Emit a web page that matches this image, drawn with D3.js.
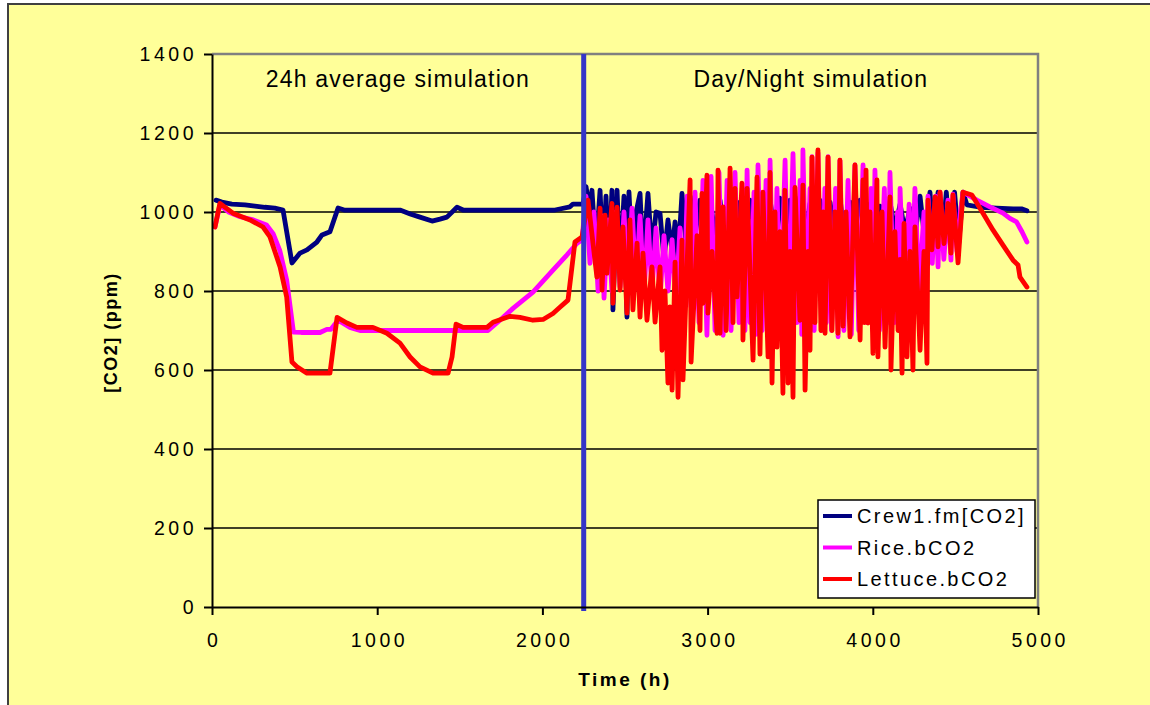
<!DOCTYPE html>
<html>
<head>
<meta charset="utf-8">
<script src="https://cdn.jsdelivr.net/npm/d3@7"></script>
<style>
  body { margin: 0; background: #fff; }
  svg { display: block; font-family: Arial, 'Liberation Sans', sans-serif; }
</style>
</head>
<body>
<div id="chart"></div>
<script>
// axis ticks
const yTicks = [0, 200, 400, 600, 800, 1000, 1200, 1400];
const xTicks = [0, 1000, 2000, 3000, 4000, 5000];
const switchTime = 2250; // 24h average -> day/night
const sectionLabels = ['24h average simulation', 'Day/Night simulation'];
const seriesNames = ['Crew1.fm[CO2]', 'Rice.bCO2', 'Lettuce.bCO2'];

// [time (h), CO2 (ppm)]
const crew = [
  [24,1030],[60,1025],[120,1020],[200,1018],[260,1015],[320,1012],[380,1010],[430,1005],
  [484,871],[533,896],[575,904],[635,924],[666,942],[714,950],[763,1010],[800,1005],
  [1138,1005],[1200,995],[1259,987],[1332,977],[1380,982],[1422,987],[1483,1012],[1520,1005],
  [2076,1005],[2167,1013],[2185,1020],[2246,1020],
  [2264,1064],[2288,1000],[2300,1055],[2324,900],[2349,1055],[2367,880],[2385,1040],[2403,870],
  [2421,1055],[2427,752],[2452,1055],[2470,860],[2494,1040],[2512,734],[2524,1051],[2548,850],
  [2567,1000],[2591,1047],[2609,880],[2639,1047],[2663,900],[2688,1000],[2712,997],[2736,880],
  [2760,980],[2785,900],[2803,975],[2821,880],[2845,1047],[2869,920],[2894,1040],[2924,940],
  [2954,1030],[2984,930],[3015,1035],[3045,940],[3075,1030],[3105,930],[3136,1035],[3166,940],
  [3196,1025],[3226,930],[3257,1030],[3287,940],[3317,1020],[3348,930],[3378,1030],[3408,945],
  [3438,1035],[3468,925],[3499,1030],[3529,940],[3559,1038],[3590,930],[3620,1022],[3650,945],
  [3680,1030],[3711,935],[3741,1025],[3771,940],[3801,1035],[3832,930],[3862,1025],[3892,950],
  [3923,1030],[3953,960],[3983,1020],[4013,950],[4043,1015],[4074,960],[4104,1025],[4134,955],
  [4165,1020],[4195,950],[4225,1010],[4255,940],[4286,1040],[4316,925],[4346,1050],[4370,915],
  [4395,1050],[4420,920],[4445,1050],[4470,915],[4495,1050],[4520,920],[4546,1050],
  [4570,1018],[4650,1012],[4750,1010],[4850,1008],[4900,1008],[4933,1003]
];

const rice = [
  [18,962],[48,1018],[100,1000],[170,988],[250,980],[330,967],[370,945],[410,903],[452,828],[493,696],
  [540,695],[654,695],[695,703],[720,703],[763,726],[835,708],[896,700],[1671,700],
  [1743,726],[1822,756],[1943,797],[2064,853],[2148,891],[2210,921],[2240,929],
  [2264,1040],[2288,870],[2312,1000],[2337,800],[2361,990],[2373,782],[2397,980],[2421,800],
  [2446,1000],[2470,810],[2494,1000],[2518,800],[2542,1010],[2567,820],[2591,990],[2615,790],
  [2639,980],[2663,800],[2688,960],[2712,780],[2736,940],[2760,800],[2785,930],[2809,780],
  [2833,960],[2851,700],[2876,1040],[2900,760],[2924,1050],[2948,720],[2972,1080],[2996,688],
  [3021,1090],[3045,700],[3069,1100],[3094,688],[3118,1080],[3142,700],[3166,1100],[3190,720],
  [3214,1060],[3226,700],[3239,1106],[3257,720],[3281,1050],[3293,690],[3305,1119],[3330,700],
  [3354,1080],[3366,690],[3378,1131],[3400,700],[3420,1060],[3440,720],[3469,1131],[3490,700],
  [3517,1148],[3540,720],[3560,1080],[3570,690],[3577,1157],[3600,720],[3620,1060],[3626,740],
  [3632,1140],[3645,700],[3668,1150],[3690,700],[3710,1060],[3718,720],[3729,1140],[3750,700],
  [3775,1060],[3790,684],[3801,1131],[3825,700],[3850,1080],[3870,690],[3892,1119],[3915,700],
  [3941,1119],[3965,720],[3990,1060],[4000,700],[4013,1106],[4040,700],[4070,1060],[4090,720],
  [4104,1100],[4130,720],[4150,1000],[4158,740],[4165,1060],[4190,760],[4220,1020],[4235,780],
  [4255,1060],[4280,800],[4310,1000],[4320,820],[4334,1040],[4360,870],[4380,1040],[4395,861],
  [4407,1050],[4430,880],[4455,1030],[4473,878],[4485,1045],[4510,900],[4530,1000],[4546,1050],
  [4560,1047],[4630,1030],[4709,1013],[4788,997],[4830,984],[4870,975],[4903,950],[4933,924]
];

const lettuce = [
  [18,962],[48,1022],[127,997],[230,980],[309,962],[351,937],[412,861],[452,785],[484,620],[514,608],
  [575,592],[714,592],[757,733],[817,719],[877,708],[974,708],[1059,693],[1138,668],[1199,633],
  [1259,608],[1338,592],[1429,592],[1453,633],[1477,716],[1520,708],[1665,708],[1701,721],
  [1804,736],[1864,733],[1943,726],[2004,728],[2064,743],[2106,759],[2155,777],[2197,924],[2240,937],
  [2276,1030],[2330,835],[2349,1010],[2361,802],[2379,992],[2391,845],[2421,1022],[2427,769],
  [2452,1012],[2470,802],[2488,962],[2512,744],[2530,980],[2548,752],[2573,921],[2591,734],
  [2609,896],[2633,726],[2663,861],[2682,721],[2712,861],[2724,650],[2742,800],[2760,567],
  [2772,760],[2785,549],[2803,873],[2821,531],[2845,929],[2851,575],[2894,1081],[2900,620],
  [2936,940],[2954,700],[2966,1047],[2972,769],[2996,1093],[3002,744],[3027,900],[3057,693],
  [3063,1106],[3075,693],[3094,1013],[3112,700],[3136,1111],[3154,720],[3166,1060],[3178,785],
  [3208,1073],[3214,676],[3239,1060],[3275,625],[3299,1088],[3317,640],[3335,1050],[3366,633],
  [3378,1100],[3390,567],[3408,1000],[3420,658],[3438,950],[3456,541],[3468,1055],[3487,567],
  [3499,900],[3517,531],[3529,1062],[3559,726],[3577,1068],[3590,549],[3608,900],[3620,650],
  [3632,1139],[3650,720],[3668,1157],[3686,700],[3699,1000],[3711,693],[3729,1139],[3753,700],
  [3771,1000],[3789,693],[3801,1131],[3820,711],[3838,1000],[3862,684],[3892,1119],[3923,676],
  [3941,1081],[3950,720],[3959,1106],[3971,719],[3983,1000],[4001,642],[4025,1081],[4031,633],
  [4056,1000],[4074,658],[4104,1038],[4110,600],[4134,950],[4153,700],[4165,880],[4177,592],
  [4189,971],[4207,633],[4225,900],[4243,600],[4255,962],[4286,650],[4310,900],[4328,617],
  [4334,1030],[4358,904],[4377,1038],[4395,912],[4407,1050],[4431,920],[4455,1022],[4473,896],
  [4485,1043],[4516,871],[4546,1050],
  [4600,1043],[4667,997],[4728,954],[4788,916],[4849,878],[4879,866],[4891,835],[4933,810]
];

const colours = ['#000080', '#FF00FF', '#FF0000'];
const plot = {left: 212, right: 1038, top: 54, bottom: 607};

const svg = d3.select('#chart').append('svg')
  .attr('width', 1150)
  .attr('height', 705);

// chart area
svg.append('rect')
  .attr('x', 8).attr('y', 4)
  .attr('width', 1160).attr('height', 720)
  .attr('fill', '#FFFF99')
  .attr('stroke', '#404040')
  .attr('stroke-width', 2);

const x = d3.scaleLinear().domain([0, 5000]).range([plot.left, plot.right]);
const y = d3.scaleLinear().domain([0, 1400]).range([plot.bottom, plot.top]);

// gridlines
svg.append('g')
  .selectAll('line')
  .data(yTicks.filter(d => d > 0 && d < 1400))
  .enter().append('line')
    .attr('x1', x(0)).attr('x2', x(5000))
    .attr('y1', d => y(d)).attr('y2', d => y(d))
    .attr('stroke', '#000')
    .attr('stroke-width', 1.6);

// top + right frame
svg.append('path')
  .attr('d', `M${x(0)},${y(1400)}H${x(5000)}V${y(0)}`)
  .attr('fill', 'none')
  .attr('stroke', '#808080')
  .attr('stroke-width', 2.5);

// series
const line = d3.line().x(d => x(d[0])).y(d => y(d[1]));
[crew, rice, lettuce].forEach((s, i) => {
  svg.append('path')
    .datum(s)
    .attr('d', line)
    .attr('fill', 'none')
    .attr('stroke', colours[i])
    .attr('stroke-width', 4.8)
    .attr('stroke-linejoin', 'round')
    .attr('stroke-linecap', 'round');
});

// divider between the two simulations
svg.append('line')
  .attr('x1', x(switchTime)).attr('x2', x(switchTime))
  .attr('y1', y(1400)).attr('y2', y(0) + 4)
  .attr('stroke', '#3535C8')
  .attr('stroke-width', 5);

// section labels, centred on each section
const sections = [[0, switchTime], [switchTime, 5000]];
svg.append('g')
  .selectAll('text')
  .data(sectionLabels)
  .enter().append('text')
    .attr('x', (d, i) => x((sections[i][0] + sections[i][1]) / 2))
    .attr('y', 87)
    .attr('text-anchor', 'middle')
    .style('font-size', '23px')
    .style('letter-spacing', '1.2px')
    .text(d => d);

// axes
const yAxis = svg.append('g')
  .attr('transform', `translate(${x(0)},0)`)
  .call(d3.axisLeft(y).tickValues(yTicks).tickSize(8).tickSizeOuter(0).tickPadding(7)
    .tickFormat(d3.format('d')));
const xAxis = svg.append('g')
  .attr('transform', `translate(0,${y(0)})`)
  .call(d3.axisBottom(x).tickValues(xTicks).tickSize(8).tickSizeOuter(0).tickPadding(18)
    .tickFormat(d3.format('d')));

[yAxis, xAxis].forEach(ax => {
  ax.select('.domain').attr('stroke', '#000').attr('stroke-width', 2);
  ax.selectAll('.tick line').attr('stroke', '#000').attr('stroke-width', 2);
  ax.selectAll('.tick text')
    .attr('fill', '#000')
    .style('font-family', 'Arial, "Liberation Sans", sans-serif')
    .style('font-size', '19.5px')
    .style('letter-spacing', '3.5px');
});
xAxis.selectAll('.tick text').attr('dx', '1.75px');

// axis titles
svg.append('text')
  .attr('transform', `translate(117,${(y(0) + y(1400)) / 2 + 2}) rotate(-90)`)
  .attr('text-anchor', 'middle')
  .style('font-size', '18px')
  .style('font-weight', 'bold')
  .style('letter-spacing', '1.5px')
  .text('[CO2] (ppm)');

svg.append('text')
  .attr('x', x(2500))
  .attr('y', 686)
  .attr('text-anchor', 'middle')
  .style('font-size', '19px')
  .style('font-weight', 'bold')
  .style('letter-spacing', '2.5px')
  .text('Time (h)');

// legend
const legend = svg.append('g').attr('transform', 'translate(818,500)');
legend.append('rect')
  .attr('width', 217).attr('height', 98)
  .attr('fill', '#fff')
  .attr('stroke', '#000')
  .attr('stroke-width', 1.5);
const item = legend.selectAll('.item')
  .data(seriesNames)
  .enter().append('g')
    .attr('class', 'item')
    .attr('transform', (d, i) => `translate(0,${16 + i * 31.5})`);
item.append('line')
  .attr('x1', 5).attr('x2', 34)
  .attr('stroke', (d, i) => colours[i])
  .attr('stroke-width', 4);
item.append('text')
  .attr('x', 39).attr('y', 7)
  .style('font-size', '20px')
  .style('letter-spacing', '2.4px')
  .text(d => d);
</script>
</body>
</html>
